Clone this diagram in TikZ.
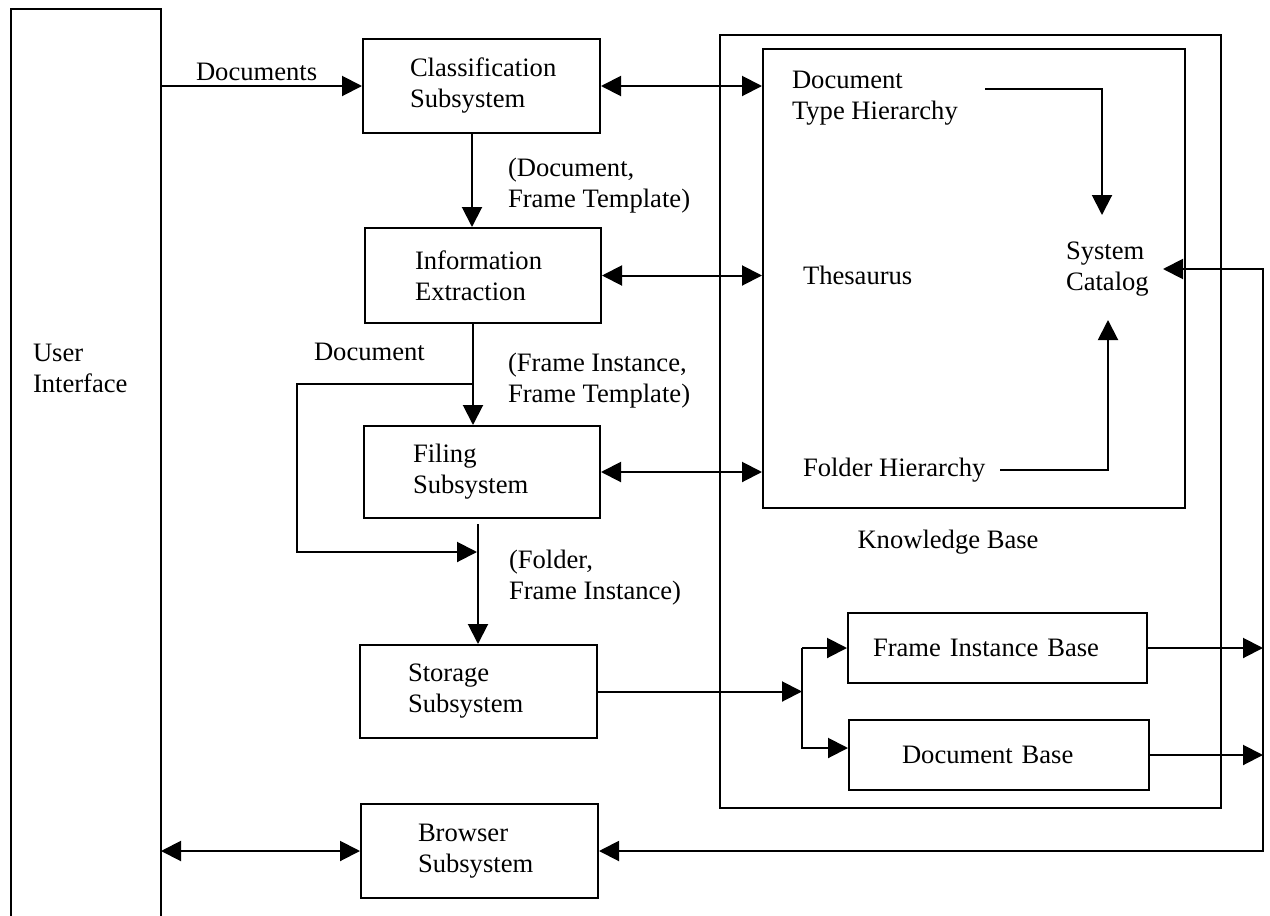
\documentclass[tikz,border=0pt]{standalone}
\usepackage{fontspec}
\setmainfont{Liberation Serif}
\usetikzlibrary{arrows.meta,calc}
\begin{document}
\begin{tikzpicture}[x=1pt,y=-1pt,
  line width=2pt,
  >={Triangle[length=20pt,width=20pt]},
  every node/.style={font=\fontsize{26.6}{31}\selectfont},
  lbl/.style={inner sep=0pt, align=left, anchor=west},
  subsys/.style n args={4}{draw, line width=2pt, minimum width=#1pt, minimum height=#2pt,
    inner ysep=0pt, inner xsep=#3pt, text width=#4pt, align=left},
  kbframe/.style n args={2}{draw, line width=2pt, inner sep=0pt, minimum width=#1pt, minimum height=#2pt}
]
% page area
\fill[white] (0,0) rectangle (1270,916);
\path[use as bounding box] (0,0) rectangle (1270,916);

% user interface column (open at the bottom)
\node[inner sep=0pt, minimum width=148pt, minimum height=907pt, anchor=north west] (ui) at (11,9) {};
\draw (ui.south west) -- (ui.north west) -- (ui.north east) -- (ui.south east);
\node[lbl] (uitext) at (32,368) {User\\Interface};

% processing subsystems
\node[subsys={237}{94}{47}{143}] (cls) at (481.5,86) {Classification\\Subsystem};
\node[subsys={236}{95}{50}{136}] (inf) at (483,275.5) {Information\\Extraction};
\node[subsys={236}{92}{49}{138}] (fil) at (482,472) {Filing\\Subsystem};
\node[subsys={237}{93}{48}{141}] (sto) at (478.5,691.5) {Storage\\Subsystem};
\node[subsys={237}{94}{57}{123}] (brw) at (479.5,851) {Browser\\Subsystem};

% knowledge base
\node[kbframe={501}{773}] (kb) at (970.5,421.5) {};
\node[kbframe={422}{459}] (kbin) at (974,278.5) {};
\node (kbtext) at (948,542) {Knowledge Base};
\node[lbl] (dth) at (791,98) {Document\\Type Hierarchy};
\node[lbl] (thes) at (802,275) {Thesaurus};
\node[lbl] (fold) at (802,470) {Folder Hierarchy};
\node[lbl] (cat) at (1065,269) {System\\Catalog};

\node[subsys={299}{70}{25}{249}] (fib) at (997.5,648) {Frame Instance Base};
\node[subsys={300}{70}{53}{194}] (dbs) at (999,755) {Document Base};

% connector labels
\node[lbl] (ldocs) at (195,72) {Documents};
\node[lbl] (l1) at (507,185.5) {(Document,\\Frame Template)};
\node[lbl] (l2) at (507,380.5) {(Frame Instance,\\Frame Template)};
\node[lbl] (l3) at (508,578) {(Folder,\\Frame Instance)};
\node[lbl] (ldoc) at (313,352) {Document};

% helper points
\coordinate (split) at (473,384);
\coordinate (dleft) at (297,552);
\coordinate (merge) at (477,552);
\coordinate (j) at (802,693);
\coordinate (rx) at (1263,0);
\coordinate (catin) at (1163,269);
\coordinate (dthout) at (985,89);
\coordinate (catup) at (1102,215);
\coordinate (foldout) at (1000,470);
\coordinate (catdn) at (1108,320);
\coordinate (dbsin) at ($(dbs.west)+(0,-7)$);

% documents in
\draw[->] (ui.east |- cls.west) -- (cls.west);
\draw[<->] (ui.east |- brw.west) -- (brw.west);

% main pipeline
\draw[->] ($(cls.south)+(-9.5,0)$) -- ($(inf.north)+(-11,0)$);
\draw[->] ($(inf.south)+(-10,0)$) -- ($(fil.north)+(-9,0)$);
\draw[->] (split) -| (dleft) -- (merge);
\draw[->] ($(fil.south)+(-4,5)$) -- ($(sto.north)+(-0.5,0)$);

% knowledge base access
\draw[<->] (cls.east) -- (cls.east -| kbin.west);
\draw[<->] (inf.east) -- (inf.east -| kbin.west);
\draw[<->] (fil.east) -- (fil.east -| kbin.west);

% catalog links
\draw[->] (dthout) -| (catup);
\draw[->] (foldout) -| (catdn);

% storage fan-out
\draw[->] (sto.east) -- (sto.east -| j);
\draw[->] (j |- fib.west) -- (fib.west);
\draw[->] (j |- fib.west) -- (j |- dbsin) -- (dbsin);
\draw[->] (fib.east) -- (fib.east -| rx);
\draw[->] (dbs.east) -- (dbs.east -| rx);

% return path to catalog and browser
\draw[<->] (catin) -- (catin -| rx) -- (rx |- brw.east) -- (brw.east);
\end{tikzpicture}
\end{document}
